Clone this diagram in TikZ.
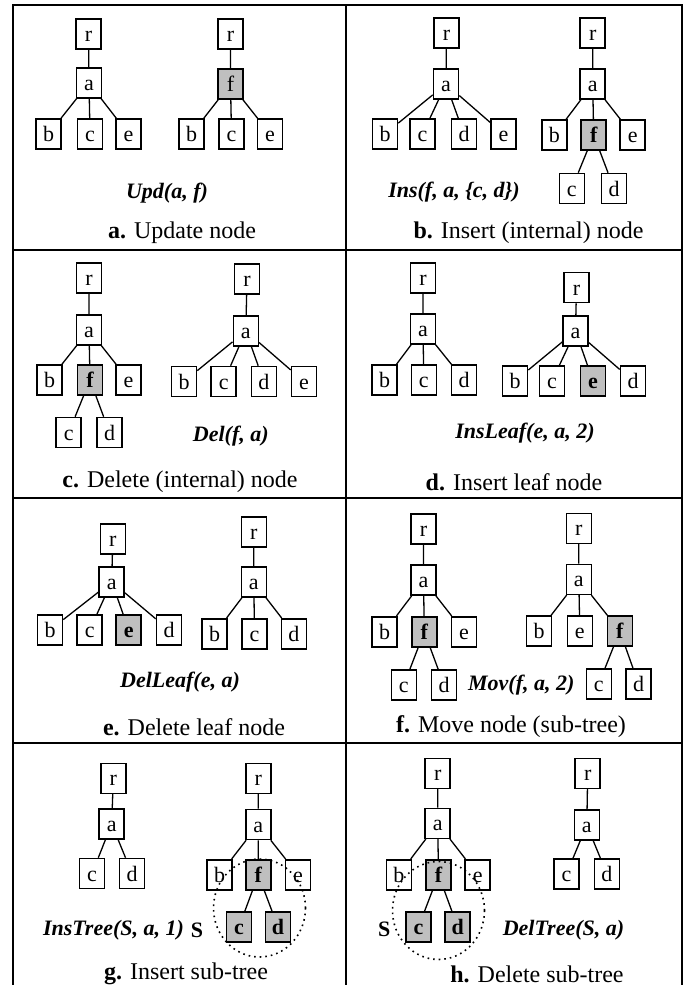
\documentclass[tikz,border=0pt]{standalone}
\usepackage{fontspec}
\setmainfont{Liberation Serif}
\tikzset{
  tn/.style={draw, line width=0.8pt, minimum width=12.5pt, minimum height=15pt,
    inner sep=0pt, text height=7.5pt, text depth=0pt, font=\fontsize{11}{11}\selectfont},
  hn/.style={tn, fill=black!25, font=\fontsize{11}{11}\selectfont\bfseries},
  op/.style={font=\fontsize{11}{13}\selectfont\bfseries\itshape},
  setname/.style={font=\fontsize{11}{13}\selectfont},
  captext/.style={font=\fontsize{12}{14}\selectfont},
  link/.style={line width=0.65pt},
  subtree/.style={dotted, line width=0.8pt},
}

\begin{document}
\begin{tikzpicture}[x=0.5pt, y=-0.5pt]
    \useasboundingbox (0,0) rectangle (692,985);
    % table
    \draw[line width=1pt] (13,985) -- (13,5) -- (682,5) -- (682,985);
    \draw[line width=1pt] (346,5) -- (346,985);
    \draw[line width=1pt] (13,250) -- (682,250) (13,498) -- (682,498) (13,743) -- (682,743);

    % a. Update node
    \node[tn] (A1r) at (88.5,34) {r};
    \node[tn] (A1a) at (89,83) {a};
    \node[tn] (A1b) at (48.5,134) {b};
    \node[tn] (A1c) at (90,134) {c};
    \node[tn] (A1e) at (128.5,134) {e};
    \draw[link] (A1r) -- (A1a) (A1a) -- (A1b) (A1a) -- (A1c) (A1a) -- (A1e);
    \node[tn, fill=black!25] (A2f) at (230.5,84) {f};
    \node[tn] (A2r) at (230.5,34) {r};
    \node[tn] (A2b) at (191.5,134) {b};
    \node[tn] (A2c) at (231.5,134) {c};
    \node[tn] (A2e) at (270,134) {e};
    \draw[link] (A2r) -- (A2f) (A2f) -- (A2b) (A2f) -- (A2c) (A2f) -- (A2e);
    \node[op] (Aop) at (167,193) {Upd(a, f)};
    \node[captext] (Acap) at (182,233) {\textbf{a.} Update node};

    % b. Insert (internal) node
    \node[tn] (B1r) at (446.5,33) {r};
    \node[tn] (B1a) at (446,84) {a};
    \node[tn] (B1b) at (385,134) {b};
    \node[tn] (B1c) at (422.5,134) {c};
    \node[tn] (B1d) at (464,134) {d};
    \node[tn] (B1e) at (503.5,134) {e};
    \draw[link] (B1r) -- (B1a) (B1a) -- (B1b) (B1a) -- (B1c) (B1a) -- (B1d) (B1a) -- (B1e);
    \node[tn] (B2r) at (592.7,33) {r};
    \node[tn] (B2a) at (592.7,84) {a};
    \node[tn] (B2b) at (554.3,135) {b};
    \node[hn] (B2f) at (593.7,135) {f};
    \node[tn] (B2e) at (632.7,135) {e};
    \node[tn] (B2c) at (571.8,188.5) {c};
    \node[tn] (B2d) at (614,188.5) {d};
    \draw[link] (B2r) -- (B2a) (B2a) -- (B2b) (B2a) -- (B2f) (B2a) -- (B2e) (B2f) -- (B2c) (B2f) -- (B2d);
    \node[op] (Bop) at (454,192) {Ins(f, a, \{c, d\})};
    \node[captext] (Bcap) at (528.5,233) {\textbf{b.} Insert (internal) node};

    % c. Delete (internal) node
    \node[tn] (C1r) at (89,278) {r};
    \node[tn] (C1a) at (89,330) {a};
    \node[tn] (C1b) at (49.5,380) {b};
    \node[hn] (C1f) at (90,380) {f};
    \node[tn] (C1e) at (128.5,380) {e};
    \node[tn] (C1c) at (68.7,432.5) {c};
    \node[tn] (C1d) at (109.5,432.5) {d};
    \draw[link] (C1r) -- (C1a) (C1a) -- (C1b) (C1a) -- (C1f) (C1a) -- (C1e) (C1f) -- (C1c) (C1f) -- (C1d);
    \node[tn] (C2r) at (247,279) {r};
    \node[tn] (C2a) at (245.8,331) {a};
    \node[tn] (C2b) at (184,381.5) {b};
    \node[tn] (C2c) at (223.7,381.5) {c};
    \node[tn] (C2d) at (263.8,381.5) {d};
    \node[tn] (C2e) at (304,381.5) {e};
    \draw[link] (C2r) -- (C2a) (C2a) -- (C2b) (C2a) -- (C2c) (C2a) -- (C2d) (C2a) -- (C2e);
    \node[op] (Cop) at (230.8,436) {Del(f, a)};
    \node[captext] (Ccap) at (180,482) {\textbf{c.} Delete (internal) node};

    % d. Insert leaf node
    \node[tn] (D1r) at (423,277.7) {r};
    \node[tn] (D1a) at (423,329) {a};
    \node[tn] (D1b) at (384.7,380) {b};
    \node[tn] (D1c) at (423.8,380) {c};
    \node[tn] (D1d) at (464,380) {d};
    \draw[link] (D1r) -- (D1a) (D1a) -- (D1b) (D1a) -- (D1c) (D1a) -- (D1d);
    \node[tn] (D2r) at (576.5,287.5) {r};
    \node[tn] (D2a) at (575.5,331) {a};
    \node[tn] (D2b) at (515,381) {b};
    \node[tn] (D2c) at (552,381) {c};
    \node[hn] (D2e) at (593,381) {e};
    \node[tn] (D2d) at (633,381) {d};
    \draw[link] (D2r) -- (D2a) (D2a) -- (D2b) (D2a) -- (D2c) (D2a) -- (D2e) (D2a) -- (D2d);
    \node[op] (Dop) at (525,433) {InsLeaf(e, a, 2)};
    \node[captext] (Dcap) at (514,482) {\textbf{d.} Insert leaf node};

    % e. Delete leaf node
    \node[tn] (E1r) at (112.8,538.7) {r};
    \node[tn] (E1a) at (111.7,581.7) {a};
    \node[tn] (E1b) at (50,630) {b};
    \node[tn] (E1c) at (89.7,630) {c};
    \node[hn] (E1e) at (128.7,630) {e};
    \node[tn] (E1d) at (169,630) {d};
    \draw[link] (E1r) -- (E1a) (E1a) -- (E1b) (E1a) -- (E1c) (E1a) -- (E1e) (E1a) -- (E1d);
    \node[tn] (E2r) at (253.8,531.7) {r};
    \node[tn] (E2a) at (253.8,582) {a};
    \node[tn] (E2b) at (214.7,633.7) {b};
    \node[tn] (E2c) at (254.5,633.7) {c};
    \node[tn] (E2d) at (293.8,633.7) {d};
    \draw[link] (E2r) -- (E2a) (E2a) -- (E2b) (E2a) -- (E2c) (E2a) -- (E2d);
    \node[op] (Eop) at (180,681.7) {DelLeaf(e, a)};
    \node[captext] (Ecap) at (194,727) {\textbf{e.} Delete leaf node};

    % f. Move node (sub-tree)
    \node[tn] (F1r) at (423.5,528.7) {r};
    \node[tn] (F1a) at (423.5,580) {a};
    \node[tn] (F1b) at (384.7,631.7) {b};
    \node[hn] (F1f) at (424.3,631.7) {f};
    \node[tn] (F1e) at (464,631.7) {e};
    \node[tn] (F1c) at (403.8,685) {c};
    \node[tn] (F1d) at (444,685) {d};
    \draw[link] (F1r) -- (F1a) (F1a) -- (F1b) (F1a) -- (F1f) (F1a) -- (F1e) (F1f) -- (F1c) (F1f) -- (F1d);
    \node[tn] (F2r) at (578.8,528.3) {r};
    \node[tn] (F2a) at (578.8,579.3) {a};
    \node[tn] (F2b) at (539,631) {b};
    \node[tn] (F2e) at (579.8,631) {e};
    \node[hn] (F2f) at (619.8,631) {f};
    \node[tn] (F2c) at (598.8,683.7) {c};
    \node[tn] (F2d) at (638.5,683.7) {d};
    \draw[link] (F2r) -- (F2a) (F2a) -- (F2b) (F2a) -- (F2e) (F2a) -- (F2f) (F2f) -- (F2c) (F2f) -- (F2d);
    \node[op] (Fop) at (521.3,685) {Mov(f, a, 2)};
    \node[captext] (Fcap) at (511,727) {\textbf{f.} Move node (sub-tree)};

    % g. Insert sub-tree
    \node[tn] (G1r) at (113.3,778.3) {r};
    \node[tn] (G1a) at (111.7,824) {a};
    \node[tn] (G1c) at (92,873.5) {c};
    \node[tn] (G1d) at (132,873.5) {d};
    \draw[link] (G1r) -- (G1a) (G1a) -- (G1c) (G1a) -- (G1d);
    \node[tn] (G2r) at (258.3,778.3) {r};
    \node[tn] (G2a) at (258.3,824.5) {a};
    \node[tn] (G2b) at (219.5,874.7) {b};
    \node[hn] (G2f) at (258.3,874.7) {f};
    \node[tn] (G2e) at (298,874.7) {e};
    \node[hn] (G2c) at (239,927) {c};
    \node[hn] (G2d) at (278,927) {d};
    \draw[link] (G2r) -- (G2a) (G2a) -- (G2b) (G2a) -- (G2f) (G2a) -- (G2e) (G2f) -- (G2c) (G2f) -- (G2d);
    \draw[subtree] (259.5,908) ellipse [x radius=46, y radius=49];
    \node[setname] (GS) at (197,930) {\textbf{S}};
    \node[op] (Gop) at (113.5,930) {InsTree(S, a, 1)};
    \node[captext] (Gcap) at (186,974) {\textbf{g.} Insert sub-tree};

    % h. Delete sub-tree
    \node[tn] (H1r) at (437.7,773.3) {r};
    \node[tn] (H1a) at (437.7,823.3) {a};
    \node[tn] (H1b) at (398.8,874.7) {b};
    \node[hn] (H1f) at (438.5,874.7) {f};
    \node[tn] (H1e) at (477.7,874.7) {e};
    \node[hn] (H1c) at (418.5,927) {c};
    \node[hn] (H1d) at (457.7,927) {d};
    \draw[link] (H1r) -- (H1a) (H1a) -- (H1b) (H1a) -- (H1f) (H1a) -- (H1e) (H1f) -- (H1c) (H1f) -- (H1d);
    \draw[subtree] (438.5,910.5) ellipse [x radius=46, y radius=49];
    \node[setname] (HS) at (384.3,929) {\textbf{S}};
    \node[tn] (H2r) at (587.7,773.3) {r};
    \node[tn] (H2a) at (586.8,825) {a};
    \node[tn] (H2c) at (566.5,873.8) {c};
    \node[tn] (H2d) at (606.8,873.8) {d};
    \draw[link] (H2r) -- (H2a) (H2a) -- (H2c) (H2a) -- (H2d);
    \node[op] (Hop) at (563.5,930) {DelTree(S, a)};
    \node[captext] (Hcap) at (537,974) {\textbf{h.} Delete sub-tree};
\end{tikzpicture}
\end{document}
